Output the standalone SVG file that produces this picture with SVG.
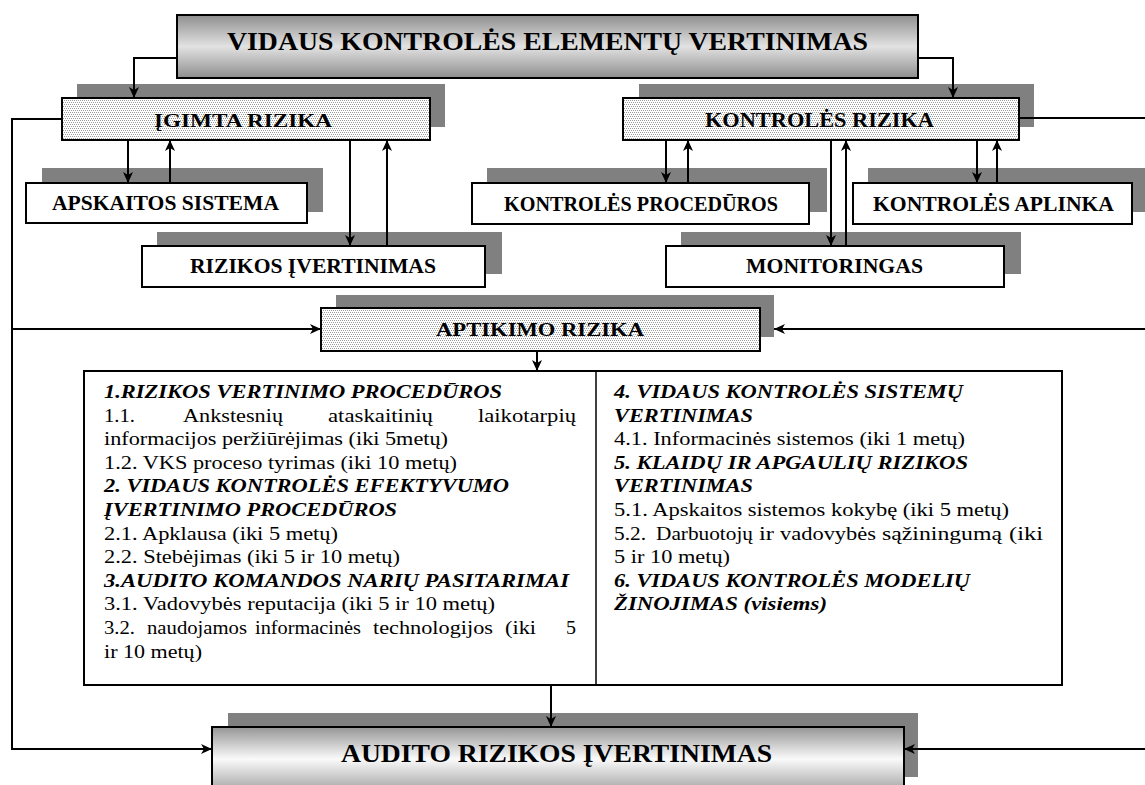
<svg xmlns="http://www.w3.org/2000/svg" width="1145" height="785" viewBox="0 0 1145 785">
  <defs>
    <style>
      .shadow { fill: #808080; }
      .box { fill: #fff; stroke: #000; stroke-width: 2; }
      .dotbox { fill: url(#dots); stroke: #000; stroke-width: 2; }
      .lbl { font-family: "Liberation Serif", "Times New Roman", serif; font-weight: bold; fill: #000; }
      .b { font-family: "Liberation Serif", "Times New Roman", serif; font-size: 19.5px; fill: #000; }
      .h { font-family: "Liberation Serif", "Times New Roman", serif; font-size: 19.5px; font-weight: bold; font-style: italic; fill: #000; }
      .conn { fill: none; stroke: #000; stroke-width: 2; }
    </style>
    <pattern id="dots" width="2" height="4" patternUnits="userSpaceOnUse">
      <rect width="2" height="4" fill="#fff"/>
      <rect x="0" y="0" width="1" height="1" fill="#9c9c9c"/>
      <rect x="1" y="2" width="1" height="1" fill="#9c9c9c"/>
    </pattern>
    <linearGradient id="gTitle" x1="0" y1="0" x2="0" y2="1">
      <stop offset="0" stop-color="#8e8e8e"/>
      <stop offset="0.5" stop-color="#e2e2e2"/>
      <stop offset="1" stop-color="#8e8e8e"/>
    </linearGradient>
    <linearGradient id="gAudit" x1="0" y1="0" x2="0" y2="1">
      <stop offset="0" stop-color="#959595"/>
      <stop offset="0.5" stop-color="#fafafa"/>
      <stop offset="1" stop-color="#a5a5a5"/>
    </linearGradient>
    <marker id="ah" markerWidth="12" markerHeight="12" refX="11" refY="6" orient="auto" markerUnits="userSpaceOnUse">
      <path d="M0,1 L11,6 L0,11 L3,6 z" fill="#000"/>
    </marker>
  </defs>

  <rect width="1145" height="785" fill="#fff"/>

  <!-- top heading -->
  <g id="vidaus-kontroles-elementu-vertinimas">
    <rect x="177" y="15" width="741" height="63" fill="url(#gTitle)" stroke="#000" stroke-width="2"/>
    <text class="lbl" x="227" y="50" font-size="26" textLength="641" lengthAdjust="spacingAndGlyphs">VIDAUS KONTROLĖS ELEMENTŲ VERTINIMAS</text>
  </g>

  <g id="igimta-rizika">
    <rect class="shadow" x="77" y="84" width="368" height="43"/>
    <rect class="dotbox" x="62" y="98" width="368" height="42"/>
    <text class="lbl" x="154" y="127" font-size="19" textLength="178" lengthAdjust="spacingAndGlyphs">ĮGIMTA RIZIKA</text>
  </g>

  <g id="apskaitos-sistema">
    <rect class="shadow" x="42" y="168" width="281" height="44"/>
    <rect class="box" x="26" y="183" width="281" height="40"/>
    <text class="lbl" x="52" y="210" font-size="21" textLength="227" lengthAdjust="spacingAndGlyphs">APSKAITOS SISTEMA</text>
  </g>

  <g id="rizikos-ivertinimas">
    <rect class="shadow" x="157" y="232" width="345" height="42"/>
    <rect class="box" x="142" y="246" width="343" height="41"/>
    <text class="lbl" x="190" y="273" font-size="21" textLength="246" lengthAdjust="spacingAndGlyphs">RIZIKOS ĮVERTINIMAS</text>
  </g>

  <g id="kontroles-rizika">
    <rect class="shadow" x="639" y="84" width="395" height="43"/>
    <rect class="dotbox" x="623" y="98" width="396" height="42"/>
    <text class="lbl" x="705" y="126.5" font-size="20" textLength="229" lengthAdjust="spacingAndGlyphs">KONTROLĖS RIZIKA</text>
  </g>

  <g id="kontroles-proceduros">
    <rect class="shadow" x="487" y="168" width="340" height="44"/>
    <rect class="box" x="472" y="183" width="337" height="41"/>
    <text class="lbl" x="504" y="210.5" font-size="21" textLength="274" lengthAdjust="spacingAndGlyphs">KONTROLĖS PROCEDŪROS</text>
  </g>

  <g id="kontroles-aplinka">
    <rect class="shadow" x="868" y="168" width="280" height="44"/>
    <rect class="box" x="853" y="183" width="279" height="41"/>
    <text class="lbl" x="873" y="210.5" font-size="21" textLength="241" lengthAdjust="spacingAndGlyphs">KONTROLĖS APLINKA</text>
  </g>

  <g id="monitoringas">
    <rect class="shadow" x="681" y="232" width="340" height="42"/>
    <rect class="box" x="666" y="246" width="338" height="41"/>
    <text class="lbl" x="746" y="273" font-size="21" textLength="177" lengthAdjust="spacingAndGlyphs">MONITORINGAS</text>
  </g>

  <g id="aptikimo-rizika">
    <rect class="shadow" x="336" y="295" width="438" height="42"/>
    <rect class="dotbox" x="321" y="308" width="439" height="43"/>
    <text class="lbl" x="436" y="335.5" font-size="19" textLength="208" lengthAdjust="spacingAndGlyphs">APTIKIMO RIZIKA</text>
  </g>

  <!-- procedures table -->
  <g id="proceduros">
    <rect x="84" y="371" width="978" height="314" fill="#fff" stroke="#000" stroke-width="2"/>
    <line x1="596" y1="371" x2="596" y2="685" stroke="#000" stroke-width="1.5"/>

    <text class="h" x="104" y="398" textLength="398" lengthAdjust="spacingAndGlyphs">1.RIZIKOS VERTINIMO PROCEDŪROS</text>
    <text class="b" x="104" y="421.6" textLength="31" lengthAdjust="spacingAndGlyphs">1.1.</text>
    <text class="b" x="183" y="421.6" textLength="100" lengthAdjust="spacingAndGlyphs">Ankstesnių</text>
    <text class="b" x="328" y="421.6" textLength="105" lengthAdjust="spacingAndGlyphs">ataskaitinių</text>
    <text class="b" x="478" y="421.6" textLength="98" lengthAdjust="spacingAndGlyphs">laikotarpių</text>
    <text class="b" x="104" y="445.2" textLength="344" lengthAdjust="spacingAndGlyphs">informacijos peržiūrėjimas (iki 5metų)</text>
    <text class="b" x="104" y="468.8" textLength="353" lengthAdjust="spacingAndGlyphs">1.2. VKS proceso tyrimas (iki 10 metų)</text>
    <text class="h" x="104" y="492.4" textLength="405" lengthAdjust="spacingAndGlyphs">2. VIDAUS KONTROLĖS EFEKTYVUMO</text>
    <text class="h" x="104" y="516" textLength="293" lengthAdjust="spacingAndGlyphs">ĮVERTINIMO PROCEDŪROS</text>
    <text class="b" x="104" y="539.6" textLength="234" lengthAdjust="spacingAndGlyphs">2.1. Apklausa (iki 5 metų)</text>
    <text class="b" x="104" y="563.2" textLength="296" lengthAdjust="spacingAndGlyphs">2.2. Stebėjimas (iki 5 ir 10 metų)</text>
    <text class="h" x="104" y="586.8" textLength="465" lengthAdjust="spacingAndGlyphs">3.AUDITO KOMANDOS NARIŲ PASITARIMAI</text>
    <text class="b" x="104" y="610.4" textLength="391" lengthAdjust="spacingAndGlyphs">3.1. Vadovybės reputacija (iki 5 ir 10 metų)</text>
    <text class="b" x="104" y="634" textLength="31" lengthAdjust="spacingAndGlyphs">3.2.</text>
    <text class="b" x="147" y="634" textLength="100" lengthAdjust="spacingAndGlyphs">naudojamos</text>
    <text class="b" x="255" y="634" textLength="106" lengthAdjust="spacingAndGlyphs">informacinės</text>
    <text class="b" x="373" y="634" textLength="120" lengthAdjust="spacingAndGlyphs">technologijos</text>
    <text class="b" x="505" y="634" textLength="31" lengthAdjust="spacingAndGlyphs">(iki</text>
    <text class="b" x="566" y="634" textLength="10" lengthAdjust="spacingAndGlyphs">5</text>
    <text class="b" x="104" y="657.6" textLength="98" lengthAdjust="spacingAndGlyphs">ir 10 metų)</text>

    <text class="h" x="614" y="398" textLength="349" lengthAdjust="spacingAndGlyphs">4. VIDAUS KONTROLĖS SISTEMŲ</text>
    <text class="h" x="614" y="421.6" textLength="139" lengthAdjust="spacingAndGlyphs">VERTINIMAS</text>
    <text class="b" x="614" y="445.2" textLength="351" lengthAdjust="spacingAndGlyphs">4.1. Informacinės sistemos (iki 1 metų)</text>
    <text class="h" x="614" y="468.8" textLength="354" lengthAdjust="spacingAndGlyphs">5. KLAIDŲ IR APGAULIŲ RIZIKOS</text>
    <text class="h" x="614" y="492.4" textLength="139" lengthAdjust="spacingAndGlyphs">VERTINIMAS</text>
    <text class="b" x="614" y="516" textLength="395" lengthAdjust="spacingAndGlyphs">5.1. Apskaitos sistemos kokybę (iki 5 metų)</text>
    <text class="b" x="614" y="539.6" textLength="32" lengthAdjust="spacingAndGlyphs">5.2.</text>
    <text class="b" x="656" y="539.6" textLength="97" lengthAdjust="spacingAndGlyphs">Darbuotojų</text>
    <text class="b" x="759" y="539.6" textLength="15" lengthAdjust="spacingAndGlyphs">ir</text>
    <text class="b" x="780" y="539.6" textLength="96" lengthAdjust="spacingAndGlyphs">vadovybės</text>
    <text class="b" x="882" y="539.6" textLength="120" lengthAdjust="spacingAndGlyphs">sąžiningumą</text>
    <text class="b" x="1009" y="539.6" textLength="34" lengthAdjust="spacingAndGlyphs">(iki</text>
    <text class="b" x="614" y="563.2" textLength="116" lengthAdjust="spacingAndGlyphs">5 ir 10 metų)</text>
    <text class="h" x="614" y="586.8" textLength="356" lengthAdjust="spacingAndGlyphs">6. VIDAUS KONTROLĖS MODELIŲ</text>
    <text class="h" x="614" y="610.4" textLength="213" lengthAdjust="spacingAndGlyphs">ŽINOJIMAS (visiems)</text>
  </g>

  <g id="audito-rizikos-ivertinimas">
    <rect class="shadow" x="228" y="713" width="690" height="64"/>
    <rect x="212" y="727" width="692" height="64" fill="url(#gAudit)" stroke="#000" stroke-width="2"/>
    <text class="lbl" x="341" y="762" font-size="26" textLength="431" lengthAdjust="spacingAndGlyphs">AUDITO RIZIKOS ĮVERTINIMAS</text>
  </g>

  <!-- connectors -->
  <g id="connectors" class="conn">
    <path d="M177,58 H134 V98" marker-end="url(#ah)"/>
    <path d="M918,58 H953 V98" marker-end="url(#ah)"/>
    <path d="M128,140 V183" marker-end="url(#ah)"/>
    <path d="M170,183 V140" marker-end="url(#ah)"/>
    <path d="M350,140 V246" marker-end="url(#ah)"/>
    <path d="M387,246 V140" marker-end="url(#ah)"/>
    <path d="M666,140 V183" marker-end="url(#ah)"/>
    <path d="M688,183 V140" marker-end="url(#ah)"/>
    <path d="M831,140 V246" marker-end="url(#ah)"/>
    <path d="M846,246 V140" marker-end="url(#ah)"/>
    <path d="M977,140 V183" marker-end="url(#ah)"/>
    <path d="M997,183 V140" marker-end="url(#ah)"/>
    <path d="M62,119 H12 V749 H212" marker-end="url(#ah)"/>
    <path d="M12,329 H321" marker-end="url(#ah)"/>
    <path d="M1019,118 H1147 V749 H904" marker-end="url(#ah)"/>
    <path d="M1147,329 H774" marker-end="url(#ah)"/>
    <path d="M537,351 V371" marker-end="url(#ah)"/>
    <path d="M551,685 V727" marker-end="url(#ah)"/>
  </g>
</svg>
